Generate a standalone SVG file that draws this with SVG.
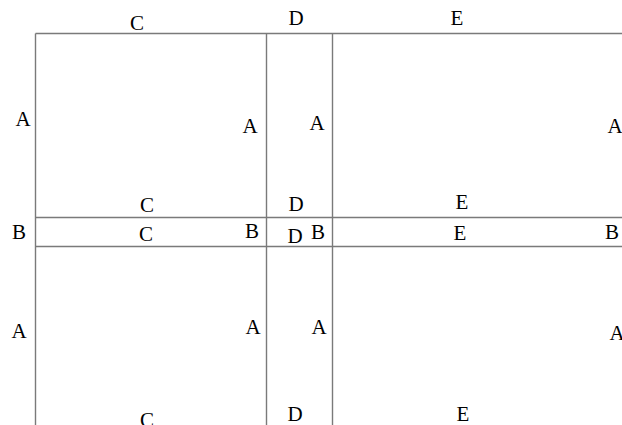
<svg xmlns="http://www.w3.org/2000/svg" width="622" height="425" viewBox="0 0 622 425">
<style>
.ln{stroke:#7a7a7a;stroke-width:1.4;fill:none}
text{font-family:"Liberation Serif","Times New Roman",serif;font-size:21px;fill:#000;text-anchor:middle}
</style>
<rect width="622" height="425" fill="#fff"/>
<g id="connectors">
<line class="ln" x1="35.5" y1="33.5" x2="622" y2="33.5"/>
<line class="ln" x1="35.5" y1="217.5" x2="622" y2="217.5"/>
<line class="ln" x1="35.5" y1="246.5" x2="622" y2="246.5"/>
<line class="ln" x1="35.5" y1="33.5" x2="35.5" y2="425"/>
<line class="ln" x1="266.5" y1="33.5" x2="266.5" y2="425"/>
<line class="ln" x1="332.5" y1="33.5" x2="332.5" y2="425"/>
</g>
<g id="labels">
<text x="137" y="30">C</text>
<text x="296" y="25">D</text>
<text x="457" y="25">E</text>
<text x="23" y="126">A</text>
<text x="250" y="133">A</text>
<text x="317" y="130">A</text>
<text x="615" y="133">A</text>
<text x="147" y="212">C</text>
<text x="296" y="211">D</text>
<text x="462" y="209">E</text>
<text x="19" y="239">B</text>
<text x="146" y="241">C</text>
<text x="252" y="238">B</text>
<text x="295" y="243">D</text>
<text x="318" y="239">B</text>
<text x="460" y="240">E</text>
<text x="612" y="239">B</text>
<text x="19" y="338">A</text>
<text x="253" y="334">A</text>
<text x="319" y="334">A</text>
<text x="617" y="340">A</text>
<text x="147" y="427">C</text>
<text x="295" y="421">D</text>
<text x="463" y="421">E</text>
</g>
</svg>
